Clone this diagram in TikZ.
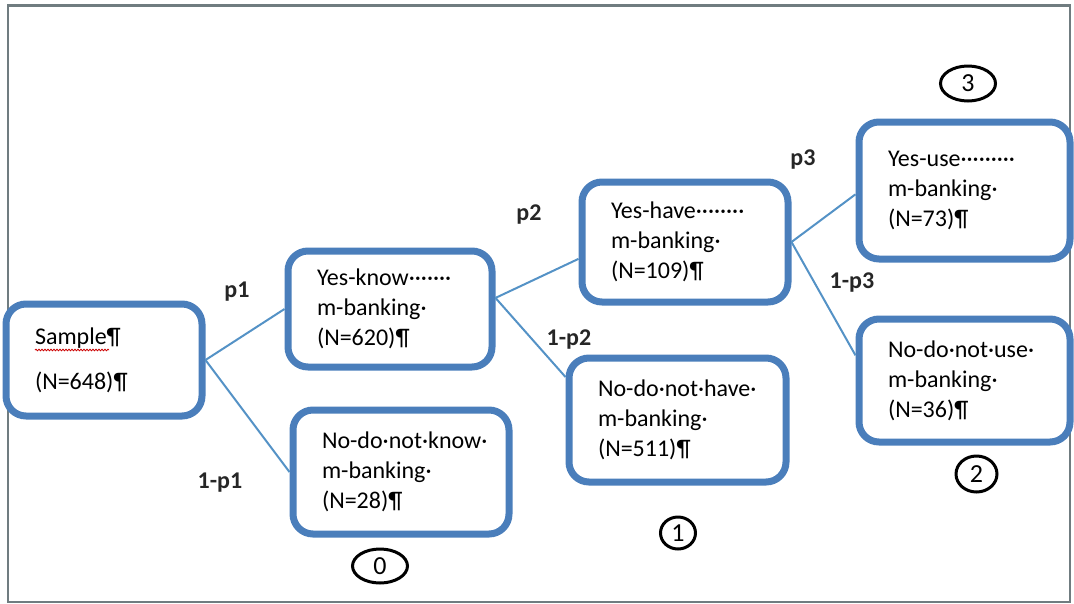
\documentclass[tikz,border=0pt]{standalone}
\usepackage{fontspec}
\setmainfont{Carlito}
\usetikzlibrary{shapes.geometric,positioning,decorations.pathmorphing}

\definecolor{boxblue}{RGB}{74,126,187}
\definecolor{lineblue}{RGB}{84,146,198}
\definecolor{framegray}{RGB}{112,124,128}

\newcommand{\boxfont}{\fontsize{24}{30}\selectfont}
\newcommand{\probfont}{\fontsize{24}{26}\selectfont\bfseries}
\newcommand{\numfont}{\fontsize{26}{28}\selectfont}

\begin{document}
\begin{tikzpicture}[x=1pt,y=-1pt,
	stagebox/.style={draw=boxblue,line width=7pt,rounded corners=20pt,fill=white,
		align=left,inner xsep=29pt,inner ysep=0pt,font=\boxfont},
	branch/.style={draw=lineblue,line width=2pt},
	prob/.style={font=\probfont,text=black!85},
	outcome/.style={ellipse,draw=black,line width=3pt,inner sep=0pt,font=\numfont}]
	
	\useasboundingbox (0,0) rectangle (1074,603);
	\draw [framegray,line width=2.5pt] (8,5.5) rectangle (1070,602);
	
	%%%%%%%%%%%%%%%%%%%%%%%%%%%%%%%%%%%%%%%%%%%%%%%%%%%%%%
	
	\node [stagebox,text width=138pt,minimum height=112pt] (sample) at (104,360) {Sample¶\\[15pt](N=648)¶};
	\draw [red!80!black,line width=0.8pt,decorate,decoration={snake,amplitude=0.8pt,segment length=3pt}]
		(35,350) -- (109,350);
	
	\node [stagebox,text width=146pt,minimum height=116pt] (knowyes) at (390,309) {\mbox{Yes-know·······}\\m-banking·\\(N=620)¶};
	\node [stagebox,text width=158pt,minimum height=124pt] (knowno) at (401,472) {\mbox{No-do·not·know·}\\m-banking·\\(N=28)¶};
	
	\node [stagebox,text width=148pt,minimum height=120pt] (haveyes) at (685,242) {\mbox{Yes-have········}\\m-banking·\\(N=109)¶};
	\node [stagebox,text width=159pt,minimum height=124pt] (haveno) at (677.5,420) {\mbox{No-do·not·have·}\\m-banking·\\(N=511)¶};
	
	\node [stagebox,text width=153pt,minimum height=137pt] (useyes) at (964.5,190.5) {\mbox{Yes-use·········}\\m-banking·\\(N=73)¶};
	\node [stagebox,text width=153pt,minimum height=123pt] (useno) at (964.5,380.5) {\mbox{No-do·not·use·}\\m-banking·\\(N=36)¶};
	
	%%%%%%%%%%%%%%%%%%%%%%%%%%%%%%%%%%%%%%%%%%%%%%%%%%%%%%
	
	\draw [branch] (sample.east) -- (knowyes.west);
	\draw [branch] (sample.east) -- (knowno.west);
	\draw [branch] (knowyes.6) -- (haveyes.189);
	\draw [branch] (knowyes.6) -- (haveno.159);
	\draw [branch] (haveyes.east) -- (useyes.182);
	\draw [branch] (haveyes.east) -- (useno.167);
	
	\node [prob] (p1) at (237,292) {p1};
	\node [prob] (q1) at (220,483) {1-p1};
	\node [prob] (p2) at (529,215) {p2};
	\node [prob] (q2) at (569,340) {1-p2};
	\node [prob] (p3) at (803,160) {p3};
	\node [prob] (q3) at (852,283) {1-p3};
	
	%%%%%%%%%%%%%%%%%%%%%%%%%%%%%%%%%%%%%%%%%%%%%%%%%%%%%%
	
	\node [outcome,minimum width=55pt,minimum height=34pt] (end0) at (380,566) {0};
	\node [outcome,minimum width=35pt,minimum height=32pt] (end1) at (678,533) {1};
	\node [outcome,minimum width=41pt,minimum height=36pt] (end2) at (976.5,474) {2};
	\node [outcome,minimum width=55pt,minimum height=35pt] (end3) at (968,83.5) {3};
	
\end{tikzpicture}
\end{document}
